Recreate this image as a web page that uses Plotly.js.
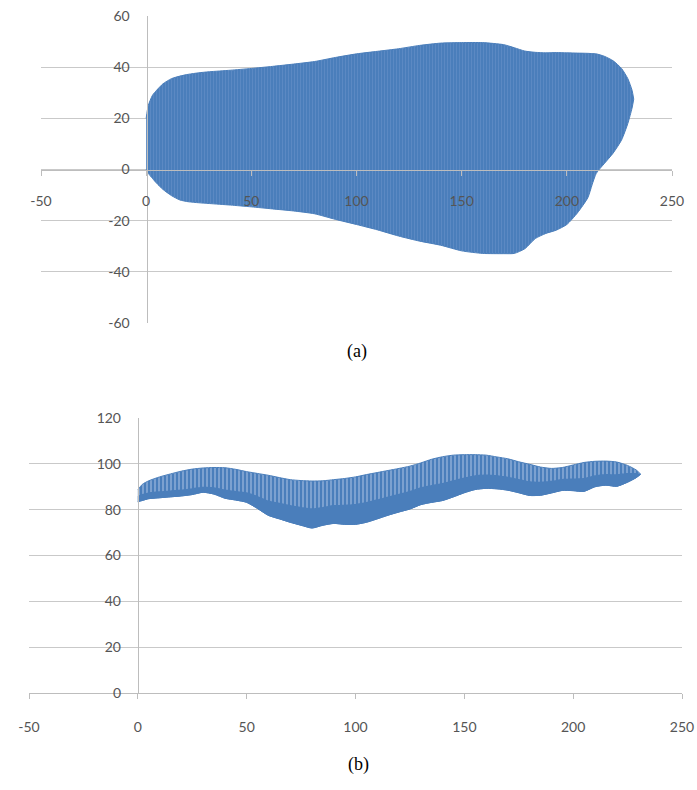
<!DOCTYPE html>
<html><head><meta charset="utf-8">
<script src="https://cdn.plot.ly/plotly-3.0.1.min.js"></script>
<style>html,body{margin:0;padding:0;background:#fff}#chart{width:697px;height:790px}</style>
</head><body><div id="chart"></div>
<script>
// ---- Panel (a): envelope of the oscillating series ----
const xA   = [0, 1, 3, 5, 8, 12, 16, 20, 25, 30, 40, 50, 60, 70, 80, 90, 100, 110, 120, 130, 140, 150, 160, 170, 175, 180, 185, 190, 195, 200, 205, 210, 212, 214, 218, 222, 226, 229, 231, 231.8];
const topA = [20, 25, 29, 31, 33.5, 35.5, 36.5, 37.2, 37.8, 38.2, 38.8, 39.5, 40.3, 41.2, 42.2, 43.8, 45.2, 46.2, 47.2, 48.5, 49.4, 49.6, 49.6, 48.8, 47.6, 46.3, 45.8, 45.6, 45.7, 45.6, 45.5, 45.4, 45.3, 45.2, 44.2, 42.5, 39.5, 35.5, 31, 27.5];
const botA = [0, -1.5, -3.5, -5.4, -7.8, -10.2, -11.9, -12.6, -13, -13.3, -13.9, -14.6, -15.4, -16.2, -17.3, -19.5, -21.5, -23.6, -26, -28, -29.6, -31.8, -32.8, -32.9, -32.8, -31, -27, -25, -23.7, -21.5, -17, -11, -6, -1.5, 2.5, 6.4, 11.5, 18, 24, 27.5];

// ---- Panel (b): envelope of the oscillating series ----
const xB   = [0, 2, 5, 10, 15, 20, 25, 30, 35, 40, 45, 50, 55, 60, 65, 70, 75, 80, 85, 90, 95, 100, 105, 110, 115, 120, 125, 130, 135, 140, 145, 150, 155, 160, 165, 170, 175, 180, 185, 190, 195, 200, 205, 210, 215, 220, 225, 229, 231];
const topB = [88.6, 91, 92.6, 94.3, 95.6, 96.8, 97.7, 98.2, 98.4, 98.3, 97.6, 96.6, 95.8, 95, 94, 93.1, 92.7, 92.5, 92.6, 93.1, 93.6, 94.3, 95.3, 96.2, 97.1, 98, 99, 100.4, 102, 103.1, 103.8, 104, 104, 103.8, 103, 102.2, 100.9, 99.8, 98.6, 98, 98.4, 99.5, 100.6, 101.1, 101.2, 100.8, 99.3, 97.3, 95.5];
const midB = [86, 86.8, 87.5, 88, 88.4, 88.8, 89.4, 90, 89.8, 88.8, 88.2, 87.6, 86, 84, 83, 82, 81.2, 80.6, 81.2, 82, 82.2, 82.5, 83.3, 84.5, 85.8, 87, 88.2, 89.8, 90.8, 91.6, 92.8, 94, 95, 95.3, 95, 94.4, 93.4, 92.4, 92.2, 92.6, 93.4, 93.6, 93.8, 95, 95.6, 95.5, 96, 96, 95.5];
const botB = [83.5, 84, 84.8, 85.2, 85.6, 86, 86.6, 87.6, 86.8, 85, 84.2, 83.2, 80.5, 77.5, 76, 74.5, 73.2, 72, 73.2, 74, 73.6, 73.6, 74.5, 76, 77.6, 79, 80.3, 82.2, 83.2, 84, 85.6, 87.4, 88.8, 89.3, 89.1, 88.5, 87.4, 86.2, 86.3, 87.3, 88.4, 88.3, 88, 90, 90.7, 90.2, 92, 94, 95.5];

// ---- Ticks and labels ----
const xTickVals  = [-50, 0, 50, 100, 150, 200, 250];
const xTickText  = ['-50', '0', '50', '100', '150', '200', '250'];
const yTickValsA = [-60, -40, -20, 0, 20, 40, 60];
const yTickTextA = ['-60', '-40', '-20', '0', '20', '40', '60'];
const yTickValsB = [0, 20, 40, 60, 80, 100, 120];
const yTickTextB = ['0', '20', '40', '60', '80', '100', '120'];
const panelLabels = ['(a)', '(b)'];

// ---- Styling ----
const W = 697, H = 790;
const BLUE = '#4a7ebb';
const GRID = '#c9c9c9';
const AXIS = '#bdbdbd';
const tickFont = {family: 'Lato, "Open Sans", sans-serif', size: 14, color: '#555555'};
const px = v => v / W, py = v => 1 - v / H;

const edge = {color: BLUE, width: 1, shape: 'spline', smoothing: 0.6};

const traces = [
  {x: xA, y: botA, xaxis: 'x', yaxis: 'y', mode: 'lines', line: edge, hoverinfo: 'skip'},
  {x: xA, y: topA, xaxis: 'x', yaxis: 'y', mode: 'lines', line: edge, fill: 'tonexty', fillcolor: BLUE,
   fillpattern: {shape: '|', size: 3, solidity: 0.2, fgcolor: '#6690c8', bgcolor: BLUE, fillmode: 'replace'}, hoverinfo: 'skip'},
  {x: xB, y: botB, xaxis: 'x2', yaxis: 'y2', mode: 'lines', line: edge, hoverinfo: 'skip'},
  {x: xB, y: topB, xaxis: 'x2', yaxis: 'y2', mode: 'lines', line: edge, fill: 'tonexty', fillcolor: BLUE,
   fillpattern: {shape: '|', size: 4, solidity: 0.28, fgcolor: '#a3bde1', bgcolor: BLUE, fillmode: 'replace'}, hoverinfo: 'skip'},
  {x: xB, y: botB, xaxis: 'x2', yaxis: 'y2', mode: 'lines', line: edge, hoverinfo: 'skip'},
  {x: xB, y: midB, xaxis: 'x2', yaxis: 'y2', mode: 'lines', line: {color: BLUE, width: 0, shape: 'spline', smoothing: 0.6},
   fill: 'tonexty', fillcolor: BLUE, hoverinfo: 'skip'}
];

const xCommon = {
  range: [-50, 250], tickmode: 'array', tickvals: xTickVals, ticktext: xTickText,
  showgrid: false, zeroline: false, showline: true, linecolor: AXIS, linewidth: 1,
  ticks: 'outside', ticklen: 5, tickcolor: AXIS, tickwidth: 1, tickfont: tickFont, fixedrange: true
};
const yCommon = {
  tickmode: 'array', showgrid: true, gridcolor: GRID, gridwidth: 1, zeroline: false,
  showline: true, linecolor: AXIS, linewidth: 1, ticks: '', tickfont: tickFont,
  ticklabelstandoff: 14, fixedrange: true
};

// white patches behind the y tick labels (gridline is interrupted there, as in the source)
const labelGaps = [];
yTickValsA.forEach(v => labelGaps.push({type: 'rect', layer: 'between', xref: 'paper', yref: 'y',
  x0: px(104), x1: px(131), y0: v - 2.6, y1: v + 2.6, fillcolor: '#ffffff', line: {width: 0}}));
yTickValsB.forEach(v => labelGaps.push({type: 'rect', layer: 'between', xref: 'paper', yref: 'y2',
  x0: px(92), x1: px(122), y0: v - 3, y1: v + 3, fillcolor: '#ffffff', line: {width: 0}}));

const layout = {
  width: W, height: H, margin: {l: 0, r: 0, t: 0, b: 0},
  paper_bgcolor: '#ffffff', plot_bgcolor: 'rgba(0,0,0,0)', showlegend: false,
  xaxis: Object.assign({}, xCommon, {domain: [px(41), px(672)], anchor: 'free', position: py(170), ticklabelstandoff: 13}),
  yaxis: Object.assign({}, yCommon, {domain: [py(323), py(16)], range: [-60, 60], tickvals: yTickValsA, ticktext: yTickTextA,
    anchor: 'free', position: px(146.5)}),
  xaxis2: Object.assign({}, xCommon, {domain: [px(29), px(682)], anchor: 'y2', ticklabelstandoff: 16}),
  yaxis2: Object.assign({}, yCommon, {domain: [py(693), py(418)], range: [0, 120], tickvals: yTickValsB, ticktext: yTickTextB,
    anchor: 'free', position: px(137.8)}),
  shapes: labelGaps,
  annotations: [
    {text: panelLabels[0], xref: 'paper', yref: 'paper', x: px(357), y: py(352), showarrow: false,
     font: {family: '"Liberation Serif", "Times New Roman", serif', size: 18, color: '#000'}},
    {text: panelLabels[1], xref: 'paper', yref: 'paper', x: px(358), y: py(777), showarrow: false,
     font: {family: '"Liberation Serif", "Times New Roman", serif', size: 18, color: '#000'}}
  ]
};

Plotly.newPlot('chart', traces, layout, {staticPlot: true, displayModeBar: false});
</script>
</body></html>
